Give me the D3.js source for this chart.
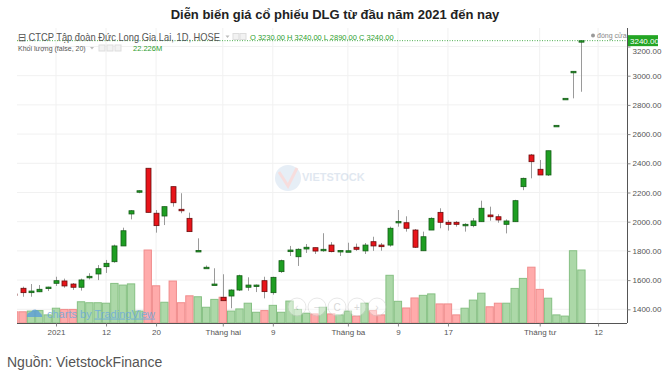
<!DOCTYPE html>
<html>
<head>
<meta charset="utf-8">
<script src="https://cdn.jsdelivr.net/npm/d3@7"></script>
<style>
  body { margin: 0; background: #fff; font-family: "Liberation Sans", Arial, sans-serif; }
</style>
</head>
<body>
<div id="chart"></div>
<script>
// daily candles, DLG (HOSE), 25/12/2020 -> 08/04/2021
const tradingDays = [
  "2020-12-25","2020-12-28","2020-12-29","2020-12-30","2020-12-31",
  "2021-01-04","2021-01-05","2021-01-06","2021-01-07","2021-01-08",
  "2021-01-11","2021-01-12","2021-01-13","2021-01-14","2021-01-15",
  "2021-01-18","2021-01-19","2021-01-20","2021-01-21","2021-01-22",
  "2021-01-25","2021-01-26","2021-01-27","2021-01-28","2021-01-29",
  "2021-02-01","2021-02-02","2021-02-03","2021-02-04","2021-02-05",
  "2021-02-08","2021-02-09","2021-02-17","2021-02-18","2021-02-19",
  "2021-02-22","2021-02-23","2021-02-24","2021-02-25","2021-02-26",
  "2021-03-01","2021-03-02","2021-03-03","2021-03-04","2021-03-05",
  "2021-03-08","2021-03-09","2021-03-10","2021-03-11","2021-03-12",
  "2021-03-15","2021-03-16","2021-03-17","2021-03-18","2021-03-19",
  "2021-03-22","2021-03-23","2021-03-24","2021-03-25","2021-03-26",
  "2021-03-29","2021-03-30","2021-03-31","2021-04-01","2021-04-02",
  "2021-04-05","2021-04-06","2021-04-07","2021-04-08"
];
const opens = [
  1505,1544,1514,1520,1548, 1578,1594,1573,1551,1619, 1642,1692,1726,1834,2053,
  2205,2366,2058,2039,2240, 2085,2023,1800,1686,1572, 1482,1491,1532,1551,1562,
  1596,1514,1658,1795,1760, 1813,1822,1801,1840,1800, 1799,1825,1800,1863,1840,
  1840,1998,1993,1943,1801, 1943,2064,1996,1996,1980, 1973,2000,2046,2034,1982,
  2000,2240,2457,2359,2320, 2658,2843,3028,3230
];
const highs = [
  1510,1555,1573,1566,1555, 1623,1610,1580,1610,1647, 1703,1738,1843,1959,2080,
  2215,2366,2080,2103,2240, 2195,2062,1886,1700,1681, 1640,1537,1637,1619,1570,
  1623,1623,1740,1834,1818, 1847,1822,1921,1860,1805, 1856,1850,1854,1897,1854,
  1966,2080,2037,1950,1932, 2030,2092,2010,2005,1990, 2025,2144,2103,2051,2016,
  2150,2302,2464,2423,2486, 2660,2845,3030,3240
];
const lows = [
  1495,1486,1486,1518,1525, 1560,1548,1533,1528,1605, 1600,1649,1719,1834,2016,
  2195,2064,1925,1977,2103, 2058,1932,1798,1684,1570, 1459,1407,1525,1527,1518,
  1475,1500,1649,1765,1697, 1786,1779,1794,1790,1765, 1798,1800,1779,1800,1801,
  1829,1966,1932,1820,1801, 1943,1955,1939,1966,1932, 1962,2000,2007,1993,1920,
  2000,2216,2297,2320,2313, 2658,2843,2845,2890
];
const closes = [
  1500,1514,1525,1537,1552, 1596,1560,1551,1601,1626, 1678,1715,1834,1938,2075,
  2212,2064,1973,2103,2130, 2075,1932,1803,1688,1573, 1459,1532,1630,1566,1566,
  1521,1619,1733,1806,1811, 1825,1799,1811,1795,1803, 1801,1811,1840,1834,1829,
  1955,2002,1955,1825,1897, 2023,1996,1982,1982,1982, 2005,2092,2034,2012,2005,
  2144,2297,2411,2320,2486, 2660,2845,3030,3240
];
// volume, millions of shares
const volumes = [
  4.7,4.7,5.0,5.2,3.4, 6.2,5.7,5.7,8.9,8.5, 8.5,8.3,16.6,15.9,16.4,
  5.0,30.6,15.6,8.7,17.6, 8.5,11.4,11.0,6.6,9.9, 10.8,5.0,5.9,8.3,4.5,
  5.2,7.4,4.5,9.2,5.7, 4.1,3.8,6.6,3.8,3.4, 5.0,2.9,8.3,5.2,3.4,
  20.0,9.1,6.3,10.5,11.6, 12.2,8.0,8.0,3.4,6.2, 9.6,12.5,6.8,8.3,8.3,
  14.5,18.7,23.4,14.1,10.4, 3.4,2.9,30.3,22.226
];
// sessions after the last candle, only so the time axis runs on
const futureDays = ["2021-04-09","2021-04-12","2021-04-13","2021-04-14","2021-04-15"];

const priceTicks = [1400,1600,1800,2000,2200,2400,2600,2800,3000,3200];
const timeTicks = ["2021-01-04","2021-01-12","2021-01-20","2021-02-01","2021-02-09",
                   "2021-03-01","2021-03-09","2021-03-17","2021-04-01","2021-04-12"];
const timeLabels = ["2021","12","20","Tháng hai","9","Tháng ba","9","17","Tháng tư","12"];

const W = 670, H = 383;
const plot = {left: 17, right: 627, top: 28, bottom: 323};

const svg = d3.select('#chart').append('svg')
    .attr('width', W)
    .attr('height', H)
    .style('display', 'block');

const x = d3.scalePoint()
    .domain(tradingDays.concat(futureDays))
    .range([14.3, 623.1]);
const y = d3.scaleLinear().domain([1400, 3200]).range([309.3, 46.5]);
const yVol = d3.scaleLinear().domain([0, 30]).range([plot.bottom, 251.45]);

const candles = tradingDays.map((d, i) => ({
  date: d, o: opens[i], h: highs[i], l: lows[i], c: closes[i], v: volumes[i]
}));

svg.append('defs').append('clipPath').attr('id', 'clip')
  .append('rect')
    .attr('x', plot.left).attr('y', plot.top)
    .attr('width', plot.right - plot.left).attr('height', plot.bottom - plot.top);

// title
svg.append('text')
    .attr('x', 335).attr('y', 19)
    .attr('text-anchor', 'middle')
    .style('font-size', '13px').style('font-weight', 'bold').style('fill', '#222')
    .text('Diễn biến giá cổ phiếu DLG từ đầu năm 2021 đến nay');

// grid
const grid = svg.append('g');
grid.selectAll('.gy').data(priceTicks).enter().append('line')
    .attr('x1', plot.left).attr('x2', plot.right)
    .attr('y1', d => y(d)).attr('y2', d => y(d))
    .attr('stroke', '#f1f1f1');
grid.selectAll('.gx').data(timeTicks).enter().append('line')
    .attr('x1', d => x(d)).attr('x2', d => x(d))
    .attr('y1', plot.top).attr('y2', plot.bottom)
    .attr('stroke', '#f1f1f1');

// watermark
const wm = svg.append('g').attr('opacity', 0.35);
wm.append('circle').attr('cx', 288).attr('cy', 178).attr('r', 13).attr('fill', '#b9cfe8');
wm.append('path').attr('d', 'M279,172 L288,186 L297,168').attr('fill', 'none')
    .attr('stroke', '#e9a0a0').attr('stroke-width', 3);
wm.append('text').attr('x', 302).attr('y', 181)
    .style('font-size', '11px').style('font-weight', 'bold').style('fill', '#a9bdd6')
    .text('VIETSTOCK');

const chart = svg.append('g').attr('clip-path', 'url(#clip)');
const step = x.step();

// volume
chart.selectAll('.vol').data(candles).enter().append('rect')
    .attr('x', d => x(d.date) - step / 2 + 0.5)
    .attr('y', d => yVol(d.v))
    .attr('width', step - 1)
    .attr('height', d => plot.bottom - yVol(d.v))
    .attr('fill', d => d.c >= d.o ? '#acd8a8' : '#ffabab')
    .attr('stroke', d => d.c >= d.o ? '#86c083' : '#f08c8c')
    .attr('stroke-width', 1);

// candles
const cg = chart.selectAll('.candle').data(candles).enter().append('g');
cg.append('line')
    .attr('x1', d => Math.round(x(d.date)) + 0.5).attr('x2', d => Math.round(x(d.date)) + 0.5)
    .attr('y1', d => y(d.h)).attr('y2', d => y(d.l))
    .attr('stroke', '#9a9a9a');
cg.append('rect')
    .attr('x', d => Math.round(x(d.date)) - 2)
    .attr('y', d => y(Math.max(d.o, d.c)))
    .attr('width', 5)
    .attr('height', d => Math.max(1.5, Math.abs(y(d.o) - y(d.c))))
    .attr('fill', d => d.c >= d.o ? '#1e9e22' : '#e8141a')
    .attr('stroke', d => d.c >= d.o ? '#155c17' : '#6a0c0c')
    .attr('stroke-width', 0.8);

// last close line
const last = candles[candles.length - 1];
svg.append('line')
    .attr('x1', plot.left).attr('x2', plot.right)
    .attr('y1', y(last.c)).attr('y2', y(last.c))
    .attr('stroke', '#4caf50').attr('stroke-dasharray', '1,1.5');

// navigation buttons (faint)
const nav = svg.append('g').attr('opacity', 0.45);
['‹', '−', 'C', '+', '›'].forEach((s, i) => {
  nav.append('circle').attr('cx', 297 + i * 20).attr('cy', 307).attr('r', 9)
      .attr('fill', '#fff').attr('stroke', '#ccc');
  nav.append('text').attr('x', 297 + i * 20).attr('y', 310.5).attr('text-anchor', 'middle')
      .style('font-size', '10px').style('fill', '#aaa').text(s);
});

// tradingview logo
const tv = svg.append('g').attr('opacity', 0.8);
tv.append('path')
    .attr('d', 'M27,317 a4,4 0 0 1 4,-5 a5,5 0 0 1 9,1 a3.5,3.5 0 0 1 2,4 z')
    .attr('fill', '#5d9fd8');
tv.append('text').attr('x', 47).attr('y', 317.5)
    .style('font-size', '11px').style('fill', '#6aa9df')
    .html('charts by <tspan text-decoration="underline">TradingView</tspan>');

// axes
svg.append('line')
    .attr('x1', plot.right + 0.5).attr('x2', plot.right + 0.5)
    .attr('y1', plot.top).attr('y2', plot.bottom)
    .attr('stroke', '#555');
svg.append('line')
    .attr('x1', plot.left).attr('x2', plot.right)
    .attr('y1', plot.bottom + 0.5).attr('y2', plot.bottom + 0.5)
    .attr('stroke', '#555');

const yAxis = svg.append('g')
    .attr('transform', `translate(${plot.right + 0.5},0)`)
    .call(d3.axisRight(y).tickValues(priceTicks).tickFormat(d3.format('.2f')).tickSize(3).tickPadding(2));
yAxis.select('.domain').remove();
yAxis.selectAll('line').attr('stroke', '#888');
yAxis.selectAll('text').style('font-size', '8px').style('fill', '#555')
    .style('font-family', '"Liberation Sans", Arial, sans-serif');
// top label sits half under the close-price tag, as in the source chart
yAxis.selectAll('.tick').filter(d => d === 3200).select('text').attr('dy', '0.9em');

const xAxis = svg.append('g')
    .attr('transform', `translate(0,${plot.bottom + 0.5})`)
    .call(d3.axisBottom(x).tickValues(timeTicks).tickFormat((d, i) => timeLabels[i]).tickSize(3).tickPadding(3));
xAxis.select('.domain').remove();
xAxis.selectAll('line').attr('stroke', '#888');
xAxis.selectAll('text').style('font-size', '8px').style('fill', '#555')
    .style('font-family', '"Liberation Sans", Arial, sans-serif');

// last price label
svg.append('rect')
    .attr('x', plot.right + 1).attr('y', y(last.c) - 5.5)
    .attr('width', 30).attr('height', 11)
    .attr('fill', '#23a524');
svg.append('text')
    .attr('x', plot.right + 3).attr('y', y(last.c) + 3)
    .style('font-size', '8px').style('fill', '#fff')
    .text(d3.format('.2f')(last.c));

svg.append('circle').attr('cx', 593).attr('cy', 35.5).attr('r', 2).attr('fill', '#999');
svg.append('text').attr('x', 597).attr('y', 38)
    .style('font-size', '7px').style('fill', '#888').text('đóng cửa');

// legend lines; small dropdown carets and buttons drawn as shapes
const caret = (cx, cy) => svg.append('path')
    .attr('d', `M${cx - 2},${cy - 1} L${cx + 2},${cy - 1} L${cx},${cy + 1.5} Z`)
    .attr('fill', '#bbb');

svg.append('text').attr('x', 18).attr('y', 40.5)
    .attr('textLength', 202).attr('lengthAdjust', 'spacingAndGlyphs')
    .style('font-size', '10.5px').style('fill', '#555')
    .text('⊟ CTCP Tập đoàn Đức Long Gia Lai, 1D, HOSE');
caret(227.5, 36.5);
[233, 240].forEach(px => svg.append('rect').attr('x', px).attr('y', 33.5).attr('width', 6).attr('height', 6)
    .attr('fill', '#f2f2f2').attr('stroke', '#ddd'));
const f2 = d3.format('.2f');
svg.append('text').attr('x', 250).attr('y', 40)
    .style('font-size', '7.5px').style('fill', '#2e9e2e')
    .text(`O ${f2(last.o)} H ${f2(last.h)} L ${f2(last.l)} C ${f2(last.c)}`);

svg.append('text').attr('x', 18).attr('y', 51)
    .style('font-size', '7px').style('fill', '#555')
    .text('Khối lượng (false, 20)');
caret(92, 48);
[99, 107, 115].forEach(px => svg.append('rect').attr('x', px).attr('y', 45).attr('width', 6).attr('height', 6)
    .attr('fill', '#f2f2f2').attr('stroke', '#ddd'));
svg.append('text').attr('x', 133).attr('y', 51)
    .style('font-size', '7.5px').style('fill', '#2e9e2e')
    .text(d3.format('.3f')(last.v) + 'M');

// source
svg.append('text').attr('x', 7).attr('y', 367)
    .style('font-size', '14px').style('fill', '#555')
    .text('Nguồn: VietstockFinance');
</script>
</body>
</html>
